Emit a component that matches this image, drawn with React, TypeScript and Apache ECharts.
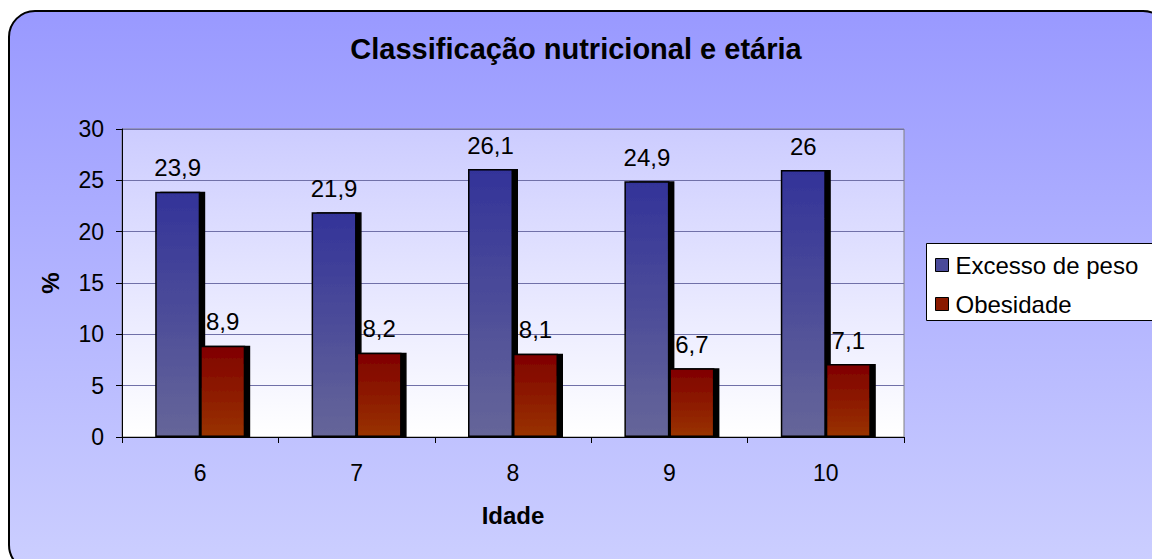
import React, { useEffect, useRef } from "react";
import * as echarts from "echarts";

const categories = ["6", "7", "8", "9", "10"];
const excessoDePeso = [23.9, 21.9, 26.1, 24.9, 26];
const obesidade = [8.9, 8.2, 8.1, 6.7, 7.1];
const seriesNames = ["Excesso de peso", "Obesidade"];
const titleText = "Classificação nutricional e etária";
const xName = "Idade";
const yName = "%";

const FONT = "'Liberation Sans', Arial, sans-serif";

export default function App() {
  const ref = useRef<HTMLDivElement>(null);
  useEffect(() => {
    document.body.style.margin = "0";
    const chart = echarts.init(ref.current!, null, { renderer: "svg" });
    const fmt = (p: any) => String(p.value).replace(".", ",");
    const barLabel = {
      show: true,
      position: "top",
      distance: 12,
      fontSize: 24,
      color: "#000",
      fontFamily: FONT,
      formatter: fmt,
    };
    chart.setOption({
      animation: false,
      backgroundColor: "#ffffff",
      textStyle: { fontFamily: FONT },
      graphic: [
        {
          type: "rect",
          z: -10,
          silent: true,
          shape: { x: 9, y: 11, width: 1160, height: 560, r: 26 },
          style: {
            fill: new echarts.graphic.LinearGradient(0, 0, 0, 1, [
              { offset: 0, color: "#9999ff" },
              { offset: 1, color: "#cccfff" },
            ]),
            stroke: "#000000",
            lineWidth: 2,
          },
        },
        {
          type: "rect",
          z: 1,
          silent: true,
          shape: { x: 926.5, y: 243.5, width: 300, height: 77 },
          style: { fill: "#ffffff", stroke: "#000000", lineWidth: 1 },
        },
      ],
      title: {
        text: titleText,
        left: "center",
        top: 29,
        textStyle: { fontSize: 29, fontWeight: "bold", color: "#000", fontFamily: FONT },
      },
      legend: {
        orient: "vertical",
        left: 926,
        top: 243,
        padding: [10, 10, 6, 9],
        itemGap: 15,
        itemWidth: 13,
        itemHeight: 13,
        z: 10,
        data: seriesNames.map((n, i) => ({
          name: n,
          icon: "rect",
          itemStyle: {
            color: i === 0 ? "#4a4a99" : "#8a1a00",
            borderColor: "#000",
            borderWidth: 1,
          },
        })),
        textStyle: {
          fontSize: 24,
          lineHeight: 24,
          color: "#000",
          fontFamily: FONT,
          padding: [0, 0, 0, 2],
        },
      },
      grid: {
        left: 122,
        top: 129,
        width: 782,
        height: 308,
        show: true,
        borderColor: "#808080",
        borderWidth: 1,
        backgroundColor: {
          type: "linear",
          x: 0,
          y: 0,
          x2: 0,
          y2: 1,
          colorStops: [
            { offset: 0, color: "#ccccff" },
            { offset: 1, color: "#ffffff" },
          ],
        },
      },
      xAxis: {
        type: "category",
        data: categories,
        name: xName,
        nameLocation: "middle",
        nameGap: 66,
        nameTextStyle: { fontSize: 24, fontWeight: "bold", color: "#000", fontFamily: FONT },
        axisLine: { show: true, lineStyle: { color: "#000", width: 1 } },
        axisTick: { show: true, length: 6, alignWithLabel: false, lineStyle: { color: "#000" } },
        axisLabel: { fontSize: 23, color: "#000", margin: 24, fontFamily: FONT },
        splitLine: { show: false },
      },
      yAxis: {
        type: "value",
        min: 0,
        max: 30,
        interval: 5,
        name: yName,
        nameLocation: "middle",
        nameGap: 60,
        nameRotate: 90,
        nameTextStyle: { fontSize: 24, fontWeight: "bold", color: "#000", fontFamily: FONT },
        axisLine: { show: true, lineStyle: { color: "#000", width: 1 } },
        axisTick: { show: true, length: 6, lineStyle: { color: "#000" } },
        axisLabel: { fontSize: 23, color: "#000", margin: 18, fontFamily: FONT },
        splitLine: { show: true, lineStyle: { color: "#7070a8", width: 1 } },
      },
      series: [
        {
          name: seriesNames[0],
          type: "bar",
          data: excessoDePeso,
          barWidth: 45,
          barGap: "0%",
          itemStyle: {
            color: new echarts.graphic.LinearGradient(0, 0, 0, 1, [
              { offset: 0, color: "#333399" },
              { offset: 1, color: "#666699" },
            ]),
            borderColor: "#000",
            borderWidth: 1.5,
            shadowColor: "#000",
            shadowOffsetX: 5,
            shadowOffsetY: 0,
            shadowBlur: 0,
          },
          label: barLabel,
        },
        {
          name: seriesNames[1],
          type: "bar",
          data: obesidade,
          barWidth: 45,
          barGap: "0%",
          itemStyle: {
            color: new echarts.graphic.LinearGradient(0, 0, 0, 1, [
              { offset: 0, color: "#800000" },
              { offset: 1, color: "#993300" },
            ]),
            borderColor: "#000",
            borderWidth: 1.5,
            shadowColor: "#000",
            shadowOffsetX: 5,
            shadowOffsetY: 0,
            shadowBlur: 0,
          },
          label: barLabel,
        },
      ],
    });
    return () => chart.dispose();
  }, []);
  return (
    <div
      ref={ref}
      style={{ position: "absolute", left: 0, top: 0, width: 1152, height: 559 }}
    />
  );
}
